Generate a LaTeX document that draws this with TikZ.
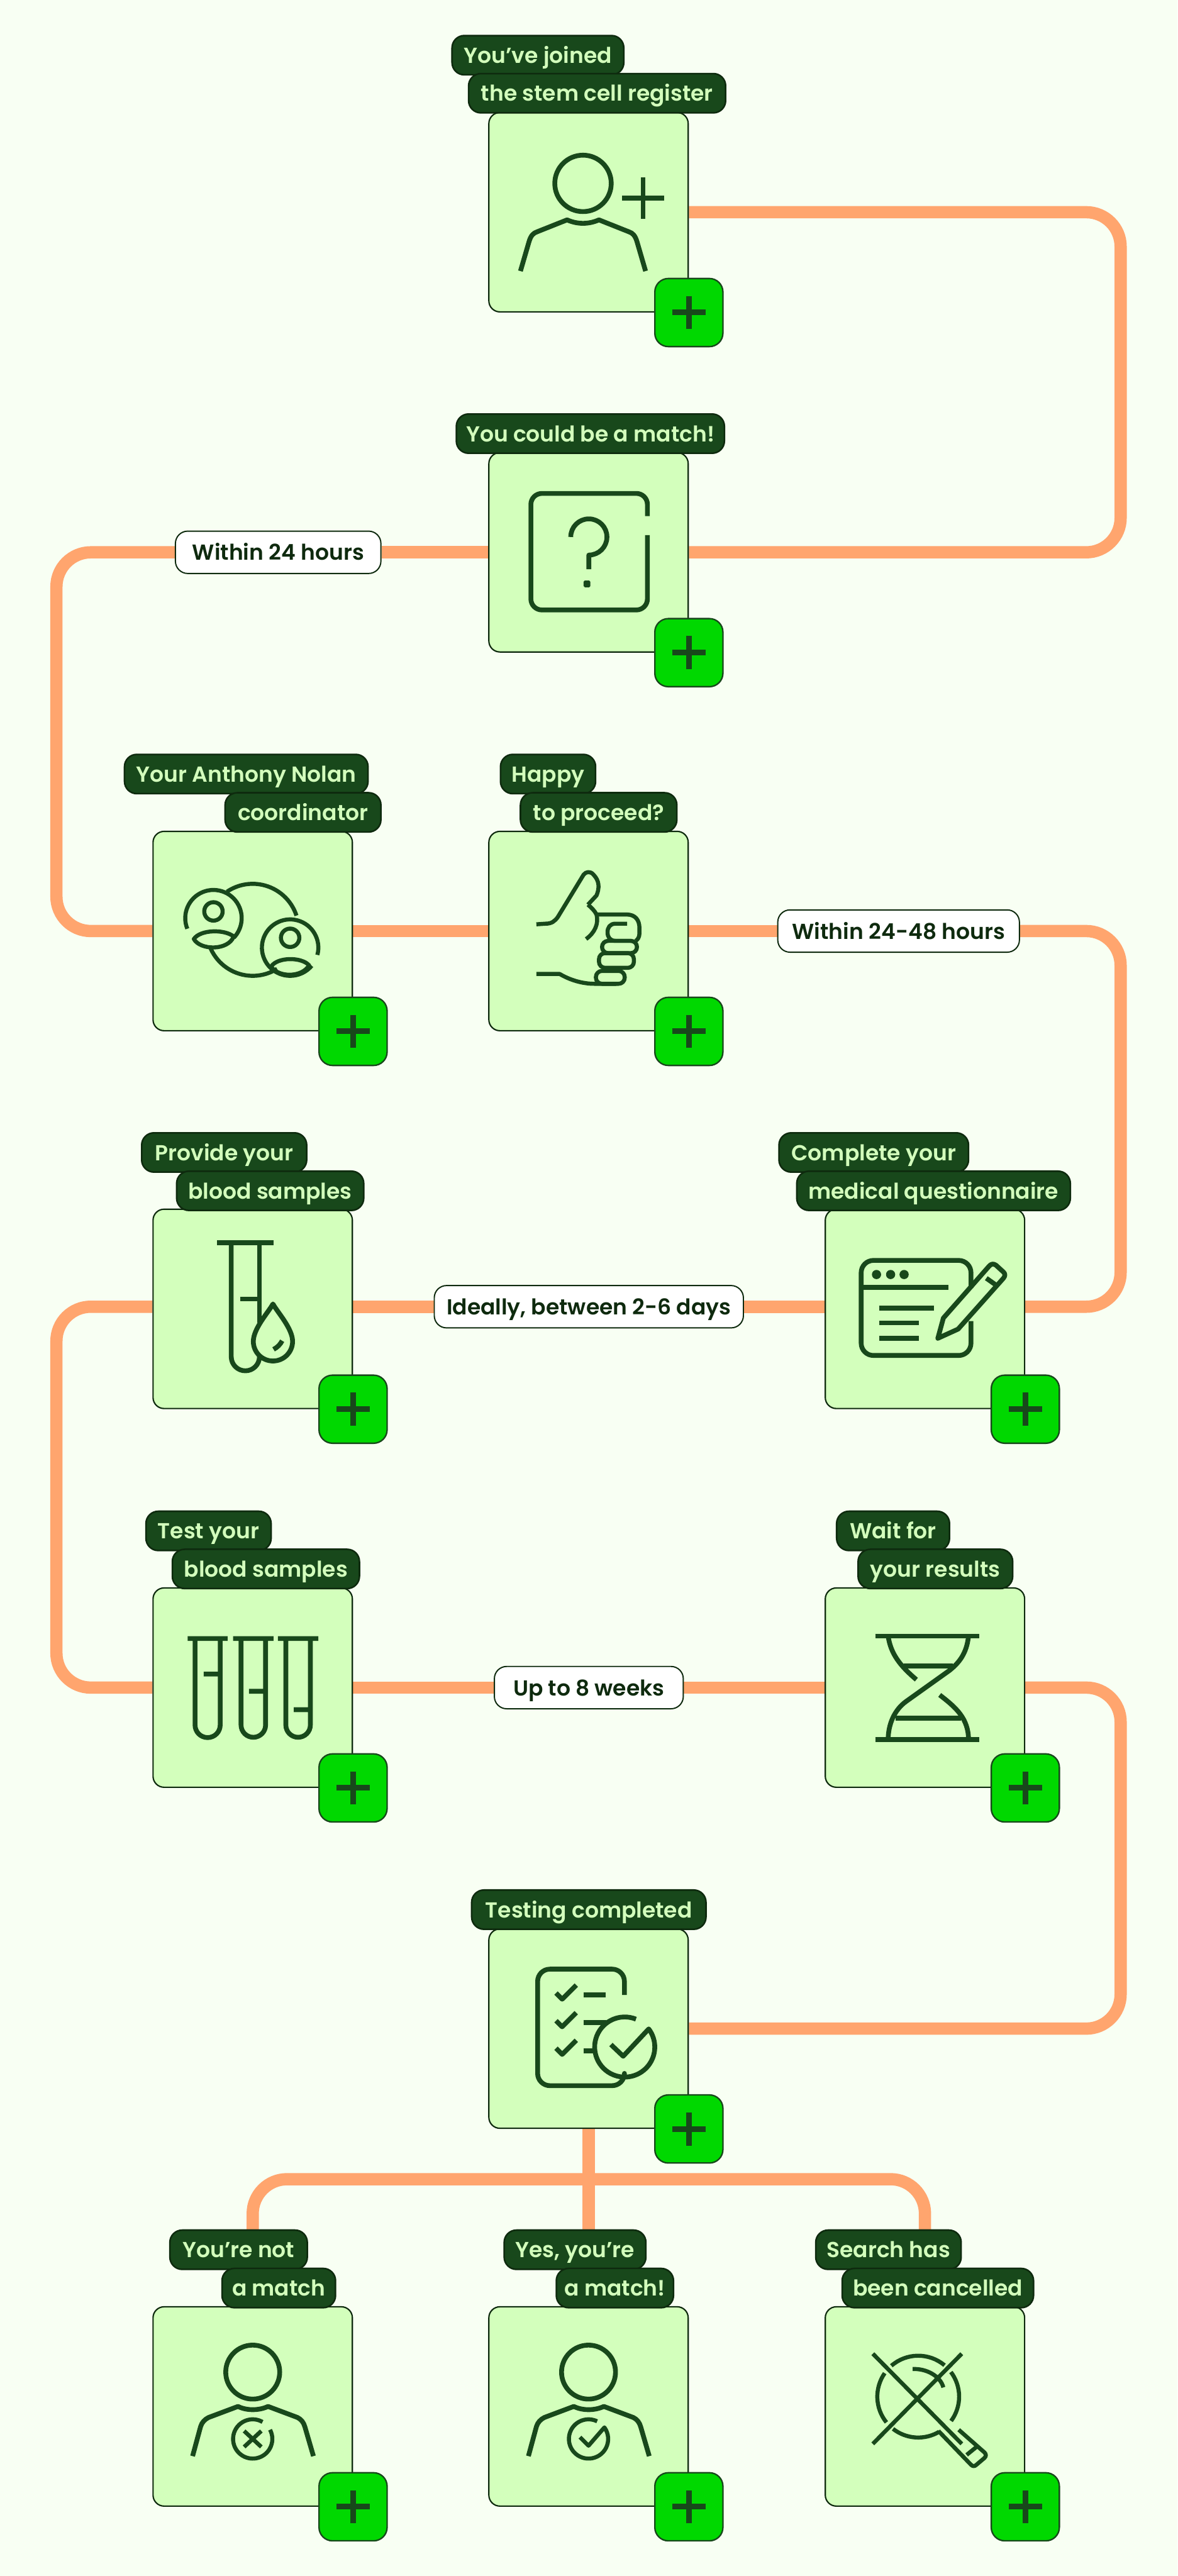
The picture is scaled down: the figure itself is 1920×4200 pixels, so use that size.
\documentclass[tikz,border=0pt]{standalone}
\usepackage{fontspec}
\setmainfont{Poppins SemiBold}
\usepackage{xcolor}
\usetikzlibrary{backgrounds}
\definecolor{pagebg}{HTML}{F8FFF3}
\definecolor{cardfill}{HTML}{D3FFBC}
\definecolor{deepgreen}{HTML}{18481B}
\definecolor{edgegreen}{HTML}{0E2A0E}
\definecolor{brightgreen}{HTML}{00D800}
\definecolor{trackcolor}{HTML}{FFA56E}
\tikzset{
  card/.style={rectangle,draw=edgegreen,line width=1.1pt,fill=cardfill,rounded corners=9pt,
    minimum size=162.5pt,inner sep=0pt},
  plusbtn/.style={rectangle,draw=deepgreen,line width=1.2pt,fill=brightgreen,rounded corners=11pt,
    minimum size=55.5pt,inner sep=0pt,path picture={
      \draw[deepgreen,line width=4.6pt] (path picture bounding box.center) +(-27,0) -- +(27,0)
        (path picture bounding box.center) +(0,-27) -- +(0,27);}},
  tag/.style={rectangle,draw=edgegreen,line width=1.3pt,fill=deepgreen,rounded corners=10pt,
    minimum height=32pt,inner sep=0pt,text height=13pt,text depth=0pt,text=cardfill,
    font=\fontsize{17.7}{20}\selectfont},
  pill/.style={rectangle,draw=edgegreen,line width=1pt,fill=white,rounded corners=10pt,
    minimum height=34.5pt,inner sep=0pt,text height=13pt,text depth=0pt,text=edgegreen,
    font=\fontsize{17.7}{20}\selectfont},
  link/.style={trackcolor,line width=10pt,rounded corners=28pt},
  icon/.style={deepgreen,line width=3.9pt,line join=round},
  fineicon/.style={deepgreen,line width=3.3pt,line join=round}
}
\begin{document}
\begin{tikzpicture}[x=0.5pt,y=0.5pt]
  \useasboundingbox (0,0) rectangle (1920,-4200);
  \coordinate (lefttrack) at (92,0);
  \coordinate (righttrack) at (1827,0);
  \coordinate (fork) at (959.5,-3553);
  % cards
  \node[card] (join) at (959.5,-346) {};
  \node[card] (maybe) at (959.5,-900.5) {};
  \node[card] (coord) at (412,-1518) {};
  \node[card] (proceed) at (959.5,-1518) {};
  \node[card] (samples) at (412,-2134) {};
  \node[card] (medical) at (1508,-2134) {};
  \node[card] (testing) at (412,-2751.5) {};
  \node[card] (waiting) at (1508,-2751.5) {};
  \node[card] (done) at (959.5,-3307.5) {};
  \node[card] (nomatch) at (412,-3923.5) {};
  \node[card] (yesmatch) at (959.5,-3923.5) {};
  \node[card] (cancel) at (1508,-3923.5) {};
  % time notes on the track
  \node[pill,minimum width=167.5pt] (day) at (453.5,-900.5) {Within 24 hours};
  \node[pill,minimum width=197pt] (twodays) at (1465,-1518) {Within 24-48 hours};
  \node[pill,minimum width=252pt] (sixdays) at (960,-2130.5) {Ideally, between 2-6 days};
  \node[pill,minimum width=154pt] (weeks) at (960,-2751.5) {Up to 8 weeks};
  % track
  \begin{scope}[on background layer]
    \fill[pagebg] (0,0) rectangle (1920,-4200);
    \draw[link] (join.east) -- (righttrack |- join.east) -- (righttrack |- maybe.east) -- (maybe.east);
    \draw[link] (maybe.west) -- (day.east);
    \draw[link] (day.west) -- (lefttrack |- day.west) -- (lefttrack |- coord.west) -- (coord.west);
    \draw[link] (coord.east) -- (proceed.west);
    \draw[link] (proceed.east) -- (twodays.west);
    \draw[link] (twodays.east) -- (righttrack |- twodays.east) -- (righttrack |- sixdays.east) -- (sixdays.east -| medical.east);
    \draw[link] (sixdays.east -| medical.west) -- (sixdays.east);
    \draw[link] (sixdays.west) -- (sixdays.west -| samples.east);
    \draw[link] (sixdays.west -| samples.west) -- (lefttrack |- sixdays.west) -- (lefttrack |- testing.west) -- (testing.west);
    \draw[link] (testing.east) -- (weeks.west);
    \draw[link] (weeks.east) -- (waiting.west);
    \draw[link] (waiting.east) -- (righttrack |- waiting.east) -- (righttrack |- done.east) -- (done.east);
    \draw[link] (done.south) -- (yesmatch.north);
    \draw[link] (nomatch.north) -- (nomatch.north |- fork) -- (cancel.north |- fork) -- (cancel.north);
  \end{scope}
  % person with plus
  \begin{scope}[shift={(join.center)}]
    \draw[icon] (-9,47) circle[radius=46];
    \draw[icon] (89,-11) -- (89,57) (55,23) -- (123,23);
    \draw[icon] (-111,-96) -- (-97,-48) .. controls (-94,-38) and (-90,-34) .. (-84,-32) -- (-35,-12.5)
      .. controls (-18,-20) and (0,-20) .. (17,-12.5) -- (66,-32) .. controls (72,-34) and (76,-38) .. (79,-48) -- (93,-96);
  \end{scope}
  % question box
  \begin{scope}[shift={(maybe.center)}]
    \draw[icon,rounded corners=9pt] (96,59) -- (96,96) -- (-94,96) -- (-94,-94) -- (96,-94) -- (96,28);
    \draw[icon] (-29,25) arc[start angle=180,end angle=-90,radius=29.5] -- ++(0,-23);
    \fill[deepgreen,rounded corners=1pt] (-8,-46) rectangle (3,-57);
  \end{scope}
  % coordinator
  \begin{scope}[shift={(coord.center)}]
    \draw[fineicon] (0,2) ++(18:75) arc[start angle=18,end angle=124,radius=75];
    \draw[fineicon] (0,2) ++(201:75) arc[start angle=201,end angle=302,radius=75];
    \draw[fineicon] (-64,21) ++(202:46) arc[start angle=202,end angle=-44,radius=46];
    \draw[fineicon] (-64,32) circle[radius=15];
    \draw[fineicon] (-96,-13) .. controls (-85,3) and (-45,3) .. (-31,-9) .. controls (-40,-32) and (-85,-32) .. cycle;
    \draw[fineicon] (61,-27) ++(-15:46) arc[start angle=-15,end angle=-40+360,radius=46];
    \draw[fineicon] (61,-11) circle[radius=15];
    \draw[fineicon] (30,-58) .. controls (40,-42) and (80,-42) .. (92,-56) .. controls (80,-76) and (42,-76) .. cycle;
  \end{scope}
  % thumb
  \begin{scope}[shift={(proceed.center)}]
    \draw[fineicon] (-85,11) -- (-70,12) .. controls (-60,12) and (-55,16) .. (-50,23) -- (-8,92)
      .. controls (-4,97) and (3,98) .. (8,92) .. controls (18,82) and (18,70) .. (13,58) -- (-1,43);
    \draw[fineicon] (-1,43) .. controls (5,38) and (10,33) .. (13,27) .. controls (17,12) and (10,-3) .. (-4,-13);
    \draw[fineicon] (13,27) -- (62,27) .. controls (77,27) and (83,17) .. (83,5) -- (83,-4)
      .. controls (83,-10) and (80,-14) .. (77,-16);
    \draw[fineicon] (63,12) -- (44,12) .. controls (35,12) and (31,6) .. (31,-2)
      .. controls (31,-10) and (35,-16) .. (44,-16) -- (70,-16);
    \draw[fineicon,rounded corners=5pt] (22,-16) rectangle (79,-36);
    \draw[fineicon,rounded corners=5pt] (17,-36) rectangle (74,-60);
    \draw[fineicon,rounded corners=5pt] (12,-65) rectangle (59,-86);
    \draw[fineicon] (-85,-70) -- (-47,-70) .. controls (-30,-80) and (-10,-86) .. (10,-86) -- (45,-86);
  \end{scope}
  % tube and drop
  \begin{scope}[shift={(samples.center)}]
    \draw[icon] (-58,108) -- (34,108);
    \draw[icon] (-35,108) -- (-35,-78) arc[start angle=180,end angle=360,radius=23];
    \draw[icon] (11,108) -- (11,-22) (-20,16) -- (11,16);
    \draw[icon] (33,8) .. controls (40,-5) and (65,-32) .. (65,-53) arc[start angle=0,end angle=-180,radius=32]
      .. controls (1,-32) and (26,-5) .. cycle;
    \draw[icon] (48,-52) .. controls (45,-58) and (40,-63) .. (34,-66);
  \end{scope}
  % form and pen
  \begin{scope}[shift={(medical.center)}]
    \draw[icon,rounded corners=10pt] (75,34) -- (75,79) -- (-104,79) -- (-104,-76) -- (75,-76) -- (75,-20);
    \fill[deepgreen] (-79,56) circle[radius=7.5] (-56,56) circle[radius=7.5] (-34,56) circle[radius=7.5];
    \draw[icon] (-104,35) -- (38,35) (-75,1.5) -- (15,1.5) (-75,-23) -- (-10,-23) (-75,-48) -- (-10,-48);
    \draw[icon] (21,-48) -- (30,-15) -- (104,69) .. controls (108,74) and (112,74) .. (116,71) -- (128,60)
      .. controls (131,57) and (131,54) .. (128,50) -- (54,-33) -- cycle;
    \draw[icon] (100,50) -- (117,38);
  \end{scope}
  % three tubes
  \begin{scope}[shift={(testing.center)}]
    \draw[icon] (-106,80) -- (-41,80) (-94,80) -- (-94,-61) arc[start angle=180,end angle=360,radius=20.5] -- (-53,80) (-80,22) -- (-53,22);
    \draw[icon] (-32,80) -- (34,80) (-19,80) -- (-19,-61) arc[start angle=180,end angle=360,radius=20] -- (21,80) (-6,-6) -- (21,-6);
    \draw[icon] (41,80) -- (107,80) (54,80) -- (54,-61) arc[start angle=180,end angle=360,radius=20] -- (94,80) (67,-36) -- (94,-36);
  \end{scope}
  % hourglass strand
  \begin{scope}[shift={(waiting.center)}]
    \draw[icon] (-81,84) -- (89,84) (-81,-85) -- (89,-85) (-35,35) -- (45,35) (-48,-50) -- (59,-50);
    \draw[icon] (71,84) .. controls (68,55) and (55,40) .. (40,28) -- (-30,-22)
      .. controls (-50,-36) and (-60,-60) .. (-60,-85);
    \draw[icon] (-60,84) .. controls (-56,55) and (-40,35) .. (-14,13);
    \draw[icon] (24,-12) .. controls (50,-32) and (71,-50) .. (71,-85);
  \end{scope}
  % checklist
  \begin{scope}[shift={(done.center)}]
    \draw[icon,rounded corners=10pt] (58.5,55) -- (58.5,97) -- (-83,97) -- (-83,-93) -- (58.5,-93) -- (58.5,-80);
    \draw[icon] (-53,58) -- (-43,48) -- (-20,71) (-53,13) -- (-43,3) -- (-20,26) (-53,-32) -- (-43,-42) -- (-20,-19);
    \draw[icon] (-8,55) -- (28,55) (-8,10) -- (29,10) (-8,-36) -- (7,-36);
    \draw[icon] (59,-30) ++(68:49) arc[start angle=68,end angle=397,radius=49] -- (56.5,-45) -- (36.5,-26);
  \end{scope}
  % person with cross
  \begin{scope}[shift={(nomatch.center)}]
    \draw[icon] (0,56) circle[radius=44];
    \draw[icon] (-98,-81) -- (-85,-33) .. controls (-83,-26) and (-78,-21) .. (-72,-18) -- (-24,0)
      .. controls (-10,-7) and (10,-7) .. (25,0) -- (73,-18) .. controls (79,-21) and (83,-26) .. (85,-33) -- (99,-81);
    \draw[fineicon] (0,-53) ++(60:32) arc[start angle=60,end angle=388,radius=32];
    \draw[fineicon] (-14,-40) -- (14,-66) (14,-40) -- (-14,-66);
  \end{scope}
  % person with tick
  \begin{scope}[shift={(yesmatch.center)}]
    \draw[icon] (0,56) circle[radius=44];
    \draw[icon] (-98,-81) -- (-85,-33) .. controls (-83,-26) and (-78,-21) .. (-72,-18) -- (-24,0)
      .. controls (-10,-7) and (10,-7) .. (25,0) -- (73,-18) .. controls (79,-21) and (83,-26) .. (85,-33) -- (99,-81);
    \draw[fineicon] (0,-53) ++(64:32) arc[start angle=64,end angle=396,radius=32] -- (0,-64) -- (-14,-50);
  \end{scope}
  % cancelled search
  \begin{scope}[shift={(cancel.center)}]
    \draw[fineicon] (-11,16) ++(131:66.7) arc[start angle=131,end angle=50,radius=66.7];
    \draw[fineicon] (-11,16) ++(37:66.7) arc[start angle=37,end angle=-36.5,radius=66.7];
    \draw[fineicon] (-11,16) ++(-59:66.7) arc[start angle=-59,end angle=-128,radius=66.7];
    \draw[fineicon] (-11,16) ++(145:66.7) arc[start angle=145,end angle=219,radius=66.7];
    \draw[fineicon] (-20,61) .. controls (2,62) and (25,50) .. (30,31);
    \draw[fineicon] (-85,86) -- (60,-61) (60,86) -- (-85,-61);
    \draw[fineicon] (22,-40) -- (75,-95) .. controls (78,-98) and (81,-98) .. (84,-95) -- (97,-84)
      .. controls (100,-81) and (100,-78) .. (97,-75) -- (55,-38);
    \draw[fineicon] (68,-79) -- (84,-66);
  \end{scope}
  % tags
  \node[tag,minimum width=140pt] (joina) at (877,-90) {You’ve joined};
  \node[tag,minimum width=209.5pt] (joinb) at (973.5,-152) {the stem cell register};
  \node[tag,minimum width=218.5pt] (maybea) at (962.5,-707) {You could be a match!};
  \node[tag,minimum width=198.5pt] (coorda) at (401.5,-1262) {Your Anthony Nolan};
  \node[tag,minimum width=127pt] (coordb) at (494,-1324.5) {coordinator};
  \node[tag,minimum width=77.5pt] (proceeda) at (893.5,-1262) {Happy};
  \node[tag,minimum width=127.5pt] (proceedb) at (976,-1324.5) {to proceed?};
  \node[tag,minimum width=134.5pt] (samplesa) at (365.5,-1879) {Provide your};
  \node[tag,minimum width=152.5pt] (samplesb) at (440.5,-1941.5) {blood samples};
  \node[tag,minimum width=154.5pt] (medicala) at (1424.5,-1879) {Complete your};
  \node[tag,minimum width=223pt] (medicalb) at (1522,-1941.5) {medical questionnaire};
  \node[tag,minimum width=102pt] (testinga) at (340,-2496) {Test your};
  \node[tag,minimum width=152.5pt] (testingb) at (433.5,-2558) {blood samples};
  \node[tag,minimum width=92pt] (waitinga) at (1456,-2496) {Wait for};
  \node[tag,minimum width=126pt] (waitingb) at (1525,-2558) {your results};
  \node[tag,minimum width=191pt] (donea) at (960,-3113.5) {Testing completed};
  \node[tag,minimum width=112pt] (nomatcha) at (389,-3668) {You’re not};
  \node[tag,minimum width=92.5pt] (nomatchb) at (454.5,-3730.5) {a match};
  \node[tag,minimum width=115.5pt] (yesmatcha) at (937.5,-3668) {Yes, you’re};
  \node[tag,minimum width=95.5pt] (yesmatchb) at (1002.5,-3730.5) {a match!};
  \node[tag,minimum width=118.5pt] (cancela) at (1448.5,-3668) {Search has};
  \node[tag,minimum width=156pt] (cancelb) at (1529,-3730.5) {been cancelled};
  % plus buttons
  \node[plusbtn] (joinplus) at (join.south east) {};
  \node[plusbtn] (maybeplus) at (maybe.south east) {};
  \node[plusbtn] (coordplus) at (coord.south east) {};
  \node[plusbtn] (proceedplus) at (proceed.south east) {};
  \node[plusbtn] (samplesplus) at (samples.south east) {};
  \node[plusbtn] (medicalplus) at (medical.south east) {};
  \node[plusbtn] (testingplus) at (testing.south east) {};
  \node[plusbtn] (waitingplus) at (waiting.south east) {};
  \node[plusbtn] (doneplus) at (done.south east) {};
  \node[plusbtn] (nomatchplus) at (nomatch.south east) {};
  \node[plusbtn] (yesmatchplus) at (yesmatch.south east) {};
  \node[plusbtn] (cancelplus) at (cancel.south east) {};
\end{tikzpicture}
\end{document}
